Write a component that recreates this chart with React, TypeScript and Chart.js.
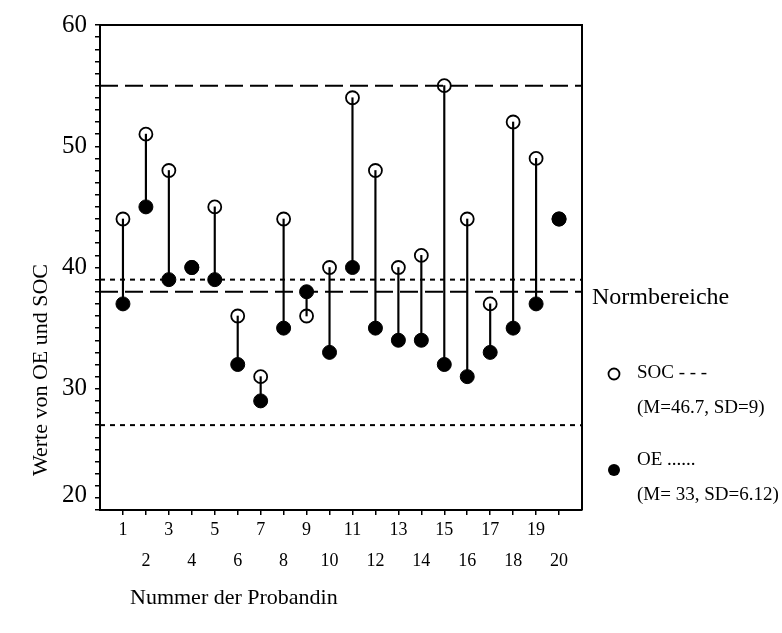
import React, { useEffect, useRef } from 'react';
import { Chart, registerables } from 'chart.js';

Chart.register(...registerables);

// ---- data ----
const probandin = [1, 2, 3, 4, 5, 6, 7, 8, 9, 10, 11, 12, 13, 14, 15, 16, 17, 18, 19, 20];
const socValues = [44, 51, 48, 40, 45, 36, 31, 44, 36, 40, 54, 48, 40, 41, 55, 44, 37, 52, 49, 44];
const oeValues = [37, 45, 39, 40, 39, 32, 29, 35, 38, 33, 40, 35, 34, 34, 32, 31, 33, 35, 37, 44];
const socNormLines = [55, 38];
const oeNormLines = [39, 27];
const xRange = [0, 21];
const yRange = [20, 60];
const yLabelStep = 10;

const yTitle = 'Werte von OE und SOC';
const xTitle = 'Nummer der Probandin';
const legendTitle = 'Normbereiche';
const legendSoc = ['SOC - - -', '(M=46.7, SD=9)'];
const legendOe = ['OE ......', '(M= 33, SD=6.12)'];

const FONT = "'Liberation Serif', 'Times New Roman', Times, serif";

const annotationPlugin = {
  id: 'customText',
  afterDraw(chart: any) {
    const { ctx, chartArea } = chart;
    ctx.save();
    // frame top and right
    ctx.strokeStyle = '#000';
    ctx.lineWidth = 2;
    ctx.beginPath();
    ctx.moveTo(chartArea.left, chartArea.top);
    ctx.lineTo(chartArea.right, chartArea.top);
    ctx.lineTo(chartArea.right, chartArea.bottom);
    ctx.stroke();

    ctx.fillStyle = '#000';
    ctx.textBaseline = 'middle';
    ctx.textAlign = 'left';

    // y title
    ctx.save();
    ctx.translate(41, 370);
    ctx.rotate(-Math.PI / 2);
    ctx.textAlign = 'center';
    ctx.font = `22px ${FONT}`;
    ctx.fillText(yTitle, 0, 0);
    ctx.restore();

    // x title
    ctx.font = `22px ${FONT}`;
    ctx.fillText(xTitle, 130, 598);

    // legend
    ctx.font = `24px ${FONT}`;
    ctx.fillText(legendTitle, 592, 298);
    ctx.font = `19px ${FONT}`;
    ctx.fillText(legendSoc[0], 637, 373);
    ctx.fillText(legendSoc[1], 637, 408);
    ctx.fillText(legendOe[0], 637, 460);
    ctx.fillText(legendOe[1], 637, 495);

    ctx.lineWidth = 1.8;
    ctx.beginPath();
    ctx.arc(614, 374, 5.5, 0, Math.PI * 2);
    ctx.stroke();
    ctx.beginPath();
    ctx.arc(614, 470, 6, 0, Math.PI * 2);
    ctx.fill();
    ctx.restore();
  },
};

export default function App() {
  const canvasRef = useRef<HTMLCanvasElement | null>(null);

  useEffect(() => {
    document.body.style.margin = '0';
    const canvas = canvasRef.current;
    if (!canvas) return;

    const refDataset = (y: number, dash: number[]) => ({
      type: 'line' as const,
      data: [
        { x: xRange[0], y },
        { x: xRange[1], y },
      ],
      borderColor: '#000',
      borderWidth: 2,
      borderDash: dash,
      pointRadius: 0,
      fill: false,
      order: 3,
    });

    const chart = new Chart(canvas, {
      type: 'line',
      data: {
        datasets: [
          {
            type: 'line',
            label: 'OE',
            data: probandin.map((p, i) => ({ x: p, y: oeValues[i] })),
            showLine: false,
            pointStyle: 'circle',
            pointRadius: 7,
            pointBorderWidth: 1,
            pointBackgroundColor: '#000',
            pointBorderColor: '#000',
            order: 0,
          },
          {
            type: 'line',
            label: 'SOC',
            data: probandin.map((p, i) => ({ x: p, y: socValues[i] })),
            showLine: false,
            pointStyle: 'circle',
            pointRadius: 6.5,
            pointBorderWidth: 1.8,
            pointBackgroundColor: 'rgba(0,0,0,0)',
            pointBorderColor: '#000',
            order: 1,
          },
          {
            type: 'bar',
            label: 'stems',
            data: probandin.map((p, i) => ({ x: p, y: [oeValues[i], socValues[i]] })),
            backgroundColor: '#000',
            borderWidth: 0,
            barThickness: 1.5,
            grouped: false,
            order: 2,
          } as any,
          ...socNormLines.map((v) => refDataset(v, [18, 7])),
          ...oeNormLines.map((v) => refDataset(v, [5, 5])),
        ],
      },
      options: {
        animation: false,
        responsive: false,
        layout: { padding: { left: 0, top: 25, right: 200, bottom: 0 } },
        plugins: {
          legend: { display: false },
          tooltip: { enabled: false },
          title: { display: false },
        },
        scales: {
          x: {
            type: 'linear',
            offset: false,
            min: xRange[0],
            max: xRange[1],
            afterBuildTicks: (scale: any) => {
              scale.ticks = probandin.map((v) => ({ value: v }));
            },
            afterFit: (scale: any) => {
              scale.height = 123;
            },
            ticks: {
              autoSkip: false,
              maxRotation: 0,
              minRotation: 0,
              padding: 0,
              color: '#000',
              font: { size: 18, family: FONT, lineHeight: 1.72 },
              callback: (v: any) => (Number(v) % 2 === 1 ? String(v) : ['', String(v)]),
            },
            grid: { offset: false, drawOnChartArea: false, drawTicks: true, tickLength: 5, color: '#000', lineWidth: 1.5 },
            border: { display: true, color: '#000', width: 2 },
          },
          y: {
            type: 'linear',
            min: yRange[0],
            max: yRange[1],
            afterBuildTicks: (scale: any) => {
              const t: any[] = [];
              for (let v = yRange[0]; v <= yRange[1]; v++) t.push({ value: v });
              scale.ticks = t;
            },
            afterFit: (scale: any) => {
              scale.width = 100;
            },
            ticks: {
              autoSkip: false,
              padding: 8,
              color: '#000',
              font: { size: 25, family: FONT },
              callback: (v: any) => {
                const n = Number(v);
                if (n % yLabelStep !== 0) return '';
                return n === yRange[0] ? [String(n), ''] : String(n);
              },
            },
            grid: { drawOnChartArea: false, drawTicks: true, tickLength: 5, color: '#000', lineWidth: 1.5 },
            border: { display: true, color: '#000', width: 2 },
          },
        },
      },
      plugins: [annotationPlugin],
    } as any);

    return () => chart.destroy();
  }, []);

  return (
    <div style={{ width: 782, height: 633, background: '#fff' }}>
      <canvas ref={canvasRef} width={782} height={633} />
    </div>
  );
}
